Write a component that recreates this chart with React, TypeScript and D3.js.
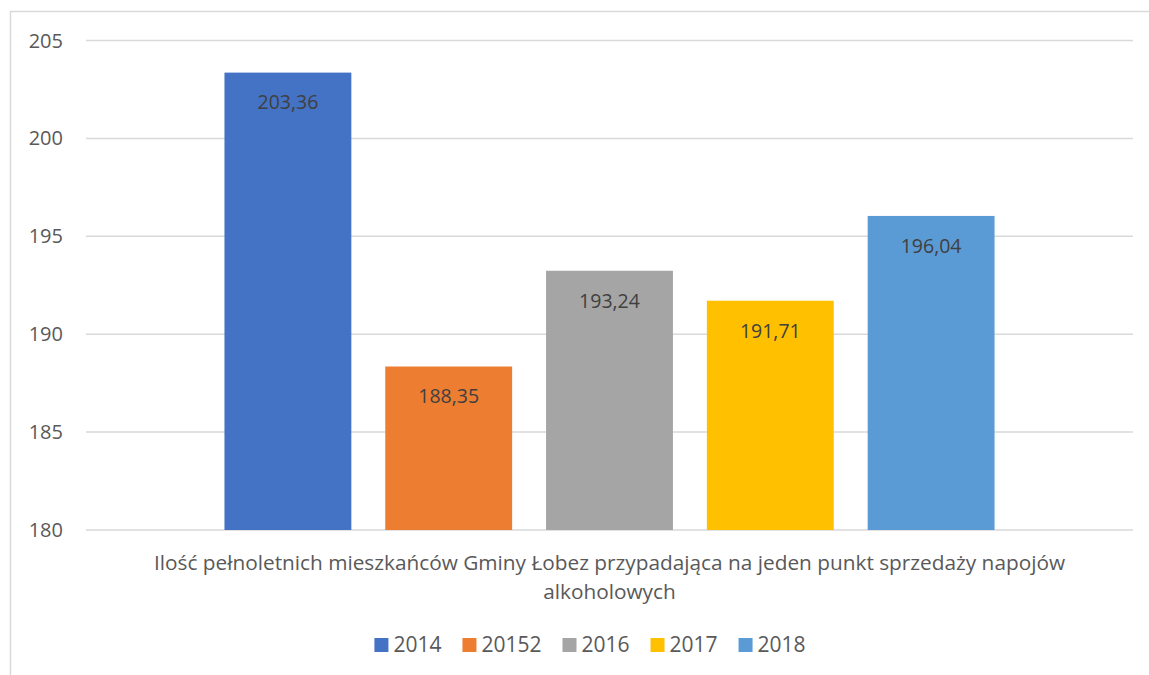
import React, { useRef, useEffect } from "react";
import * as d3 from "d3";

const categories = ["Ilość pełnoletnich mieszkańców Gminy Łobez przypadająca na jeden punkt sprzedaży napojów alkoholowych"];
const categoryLines = ["Ilość pełnoletnich mieszkańców Gminy Łobez przypadająca na jeden punkt sprzedaży napojów", "alkoholowych"];
const seriesNames = ["2014", "20152", "2016", "2017", "2018"];
const seriesValues = [203.36, 188.35, 193.24, 191.71, 196.04];
const seriesColors = ["#4472c4", "#ed7d31", "#a5a5a5", "#ffc000", "#5b9bd5"];
const yTicks = [180, 185, 190, 195, 200, 205];

const W = 1149;
const H = 675;
const FONT = "'Open Sans', sans-serif";

const App = () => {
  const ref = useRef<SVGSVGElement>(null);

  useEffect(() => {
    const svg = d3.select(ref.current);
    svg.selectAll("*").remove();

    const left = 86, right = 1133, top = 40.5, bottom = 530;

    // chart border
    svg.append("rect")
      .attr("x", 10.5).attr("y", 11.5)
      .attr("width", W).attr("height", H)
      .attr("fill", "#fff").attr("stroke", "#d9d9d9").attr("stroke-width", 1.5);

    const y = d3.scaleLinear().domain([180, 205]).range([bottom, top]);

    const x0 = d3.scaleBand().domain(categories).range([left, right])
      .paddingInner(0.1524).paddingOuter(0.1524);
    const x1 = d3.scaleBand().domain(seriesNames).range([0, x0.bandwidth()])
      .paddingInner(0.211).paddingOuter(0);

    // gridlines
    svg.append("g").selectAll("line").data(yTicks).join("line")
      .attr("x1", left).attr("x2", right)
      .attr("y1", (d) => y(d)).attr("y2", (d) => y(d))
      .attr("stroke", "#d9d9d9").attr("stroke-width", 1.5);

    // tick labels
    svg.append("g").selectAll("text").data(yTicks).join("text")
      .attr("x", 63).attr("y", (d) => y(d))
      .attr("dy", "0.35em")
      .attr("text-anchor", "end")
      .attr("font-family", FONT).attr("font-size", 20)
      .attr("fill", "#595959")
      .text((d) => d);

    const gx = x0(categories[0]) as number;
    const data = seriesNames.map((s, i) => ({ s, v: seriesValues[i], c: seriesColors[i] }));

    svg.append("g").selectAll("rect").data(data).join("rect")
      .attr("x", (d) => gx + (x1(d.s) as number))
      .attr("y", (d) => y(d.v))
      .attr("width", x1.bandwidth())
      .attr("height", (d) => y(180) - y(d.v))
      .attr("fill", (d) => d.c);

    svg.append("g").selectAll("text").data(data).join("text")
      .attr("x", (d) => gx + (x1(d.s) as number) + x1.bandwidth() / 2)
      .attr("y", (d) => y(d.v) + 30)
      .attr("dy", "0.35em")
      .attr("text-anchor", "middle")
      .attr("font-family", FONT).attr("font-size", 19.5)
      .attr("fill", "#404040")
      .text((d) => d3.format(".2f")(d.v).replace(".", ","));

    // category label
    const cx = gx + x0.bandwidth() / 2;
    svg.append("g").selectAll("text").data(categoryLines).join("text")
      .attr("x", cx).attr("y", (d, i) => 563 + i * 29)
      .attr("dy", "0.35em")
      .attr("text-anchor", "middle")
      .attr("font-family", FONT).attr("font-size", 20.8)
      .attr("fill", "#595959")
      .text((d) => d);

    // legend
    const legend = svg.append("g");
    const items = legend.selectAll("g").data(data).join("g");
    items.append("rect")
      .attr("width", 14).attr("height", 14)
      .attr("y", -7)
      .attr("fill", (d) => d.c);
    items.append("text")
      .attr("x", 19).attr("dy", "0.35em")
      .attr("font-family", FONT).attr("font-size", 21)
      .attr("fill", "#595959")
      .text((d) => d.s);
    let pos = 0;
    const gap = 21;
    items.each(function () {
      const g = d3.select(this);
      g.attr("transform", `translate(${pos},0)`);
      const tw = (g.select("text").node() as SVGTextElement).getComputedTextLength();
      pos += 19 + tw + gap;
    });
    const total = pos - gap;
    legend.attr("transform", `translate(${590 - total / 2},645)`);
  }, []);

  return (
    <svg
      ref={ref}
      width={W}
      height={H}
      style={{ position: "absolute", left: 0, top: 0, background: "#fff" }}
    />
  );
};

export default App;
